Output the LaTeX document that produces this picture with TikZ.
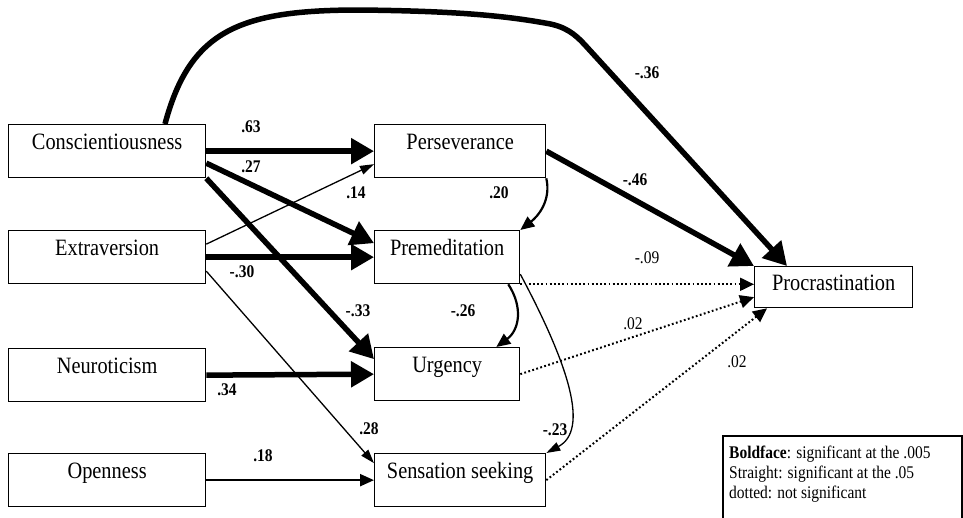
\documentclass[tikz,border=0pt]{standalone}
\usepackage{fontspec}
\setmainfont{Liberation Serif}[FakeStretch=0.87]
\usetikzlibrary{arrows.meta,calc}

\begin{document}
\begin{tikzpicture}[x=1pt,y=-1pt,
	var/.style={draw,line width=1.3pt,inner sep=0pt,anchor=north west,text height=25pt,text depth=28pt,font=\fontsize{23.4}{26}\selectfont},
	coef/.style={font=\fontsize{17.8}{20}\selectfont\bfseries},
	ns/.style={font=\fontsize{17.8}{20}\selectfont},
	heavy/.style={line width=5.5pt,-{Triangle[length=23pt,width=25pt]}},
	light/.style={line width=1.3pt,-{Triangle[length=14pt,width=9pt]}},
	medium/.style={line width=2.2pt,-{Triangle[length=14pt,width=12pt]}},
	nonsig/.style={line width=2pt,dash pattern=on 1.8pt off 2.4pt,-{Triangle[length=14pt,width=13pt]}}]
	\useasboundingbox (0,0) rectangle (963,517);
	\node[var,minimum width=197pt] (cons) at (8,124) {Conscientiousness};
	\node[var,minimum width=197pt] (extra) at (8,230) {Extraversion};
	\node[var,minimum width=197pt] (neuro) at (8,348) {Neuroticism};
	\node[var,minimum width=197pt] (open) at (8,453) {Openness};
	\node[var,minimum width=171pt] (pers) at (374,124) {Perseverance};
	\node[var,minimum width=145pt] (prem) at (374,230) {Premeditation};
	\node[var,minimum width=145pt] (urg) at (374,347) {Urgency};
	\node[var,minimum width=171pt] (sens) at (374,453) {Sensation seeking};
	\node[var,minimum width=158pt,text height=24pt,text depth=17pt] (proc) at (754,266) {Procrastination};
	\draw[heavy] ($(cons.north west)+(157,0)$) .. controls (190,30) and (240,10) .. (360,10)
		.. controls (450,11) and (500,15) .. (545,23) .. controls (565,26) and (575,34) .. (585,45)
		-- ($(proc.north west)+(33,0)$);
	\draw[heavy] (cons.east) -- (cons.east -| pers.west);
	\draw[heavy] ($(cons.east)+(0,12)$) -- ($(prem.west)+(0,-14)$);
	\draw[heavy] (cons.south east) -- ($(urg.west)+(0,-15)$);
	\draw[light] ($(extra.east)+(0,-13)$) -- ($(pers.west)+(0,13)$);
	\draw[heavy] (extra.east) -- (prem.west);
	\draw[light] ($(extra.east)+(0,14)$) -- ($(sens.west)+(0,-17)$);
	\draw[heavy] (neuro.east) -- (urg.west);
	\draw[medium] (open.east) -- (sens.west);
	\draw[heavy] (pers.east) -- (proc.north west);
	\draw[medium] (pers.south east) .. controls +(5,22) and +(18,-14) .. (prem.north east);
	\draw[medium] ($(prem.south east)+(-12,0)$) .. controls +(15,23) and +(23,-17) .. ($(urg.north east)+(-24,0)$);
	\draw[light] ($(prem.east)+(0,17)$) .. controls +(49,92) and +(43,-23) .. (sens.north east);
	\draw[nonsig] (prem.south east) -- (prem.south east -| proc.west);
	\draw[nonsig] (urg.east) -- ($(proc.west)+(0,10)$);
	\draw[nonsig] (sens.east) -- ($(proc.south west)+(13,0)$);
	\node[coef] (c1) at (251,127) {.63};
	\node[coef] (c2) at (251,167) {.27};
	\node[coef] (c3) at (356,193) {.14};
	\node[coef] (c4) at (242,272) {-.30};
	\node[coef] (c5) at (358,311) {-.33};
	\node[coef] (c6) at (227,390) {.34};
	\node[coef] (c7) at (263,456) {.18};
	\node[coef] (c8) at (369,429) {.28};
	\node[coef] (c9) at (555,430) {-.23};
	\node[coef] (c10) at (463,311) {-.26};
	\node[coef] (c11) at (499,193) {.20};
	\node[coef] (c12) at (635,180) {-.46};
	\node[coef] (c13) at (647,73) {-.36};
	\node[ns] (c14) at (647,258) {-.09};
	\node[ns] (c15) at (633,324) {.02};
	\node[ns] (c16) at (737,362) {.02};
	\node[anchor=north west,align=left,inner sep=0pt,font=\fontsize{17.8}{20}\selectfont] (key) at (729,446)
		{\textbf{Boldface}: significant at the .005\\Straight: significant at the .05\\dotted: not significant};
	\draw[line width=1.3pt] (723,519) |- (962,436) -- (962,519);
\end{tikzpicture}
\end{document}
